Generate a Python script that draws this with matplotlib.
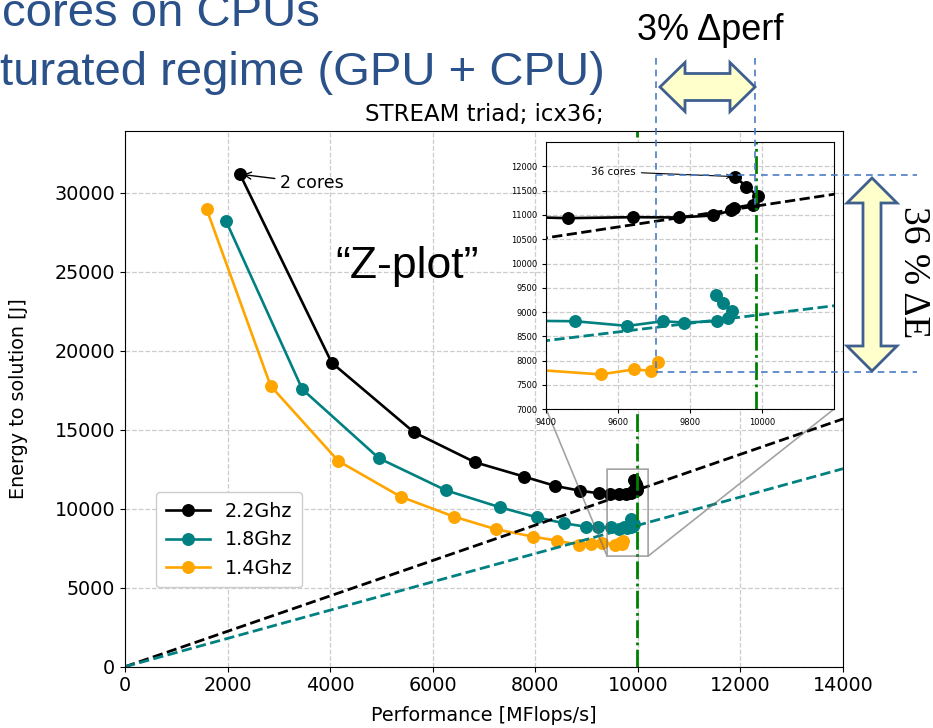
import matplotlib.pyplot as plt
import numpy as np
from matplotlib.lines import Line2D
from matplotlib.patches import Polygon

# data
black_x = [2242, 4030, 5635, 6824, 7785, 8392, 8868, 9234, 9460, 9641, 9768, 9864, 9915, 9922, 9974, 9990, 9957, 9925]
black_y = [31165, 19240, 14835, 12937, 12025, 11437, 11139, 10975, 10933, 10953, 10947, 10988, 11091, 11146, 11213, 11384, 11583, 11788]
teal_x = [1969, 3457, 4952, 6259, 7311, 8026, 8559, 8980, 9230, 9480, 9626, 9724, 9782, 9875, 9907, 9918, 9893, 9872]
teal_y = [28210, 17557, 13190, 11160, 10089, 9456, 9076, 8861, 8830, 8812, 8716, 8812, 8786, 8812, 8880, 9024, 9188, 9360]
orange_x = [1592, 2840, 4159, 5375, 6416, 7233, 7961, 8428, 8857, 9080, 9300, 9551, 9644, 9691, 9710]
orange_y = [28950, 17766, 13019, 10759, 9494, 8696, 8228, 7975, 7703, 7760, 7850, 7718, 7821, 7792, 7965]
labels = ["2.2Ghz", "1.8Ghz", "1.4Ghz"]
colors = ["black", "teal", "orange"]
black_slope = 1.12
teal_slope = 0.895
peak_perf = 9985

W, H = 933, 728
fig = plt.figure(figsize=(W / 100, H / 100), dpi=100)


def px(x, y):
    # pixel position (from top-left) -> figure fraction
    return x / W, 1 - y / H


ax = fig.add_axes([125 / W, 1 - 666.7 / H, 718 / W, 535.7 / H])
series = [(black_x, black_y), (teal_x, teal_y), (orange_x, orange_y)]


def draw_all(a):
    for (xs, ys), c, lab in zip(series, colors, labels):
        a.plot(xs, ys, "-o", color=c, lw=1.9, ms=8.3, label=lab)
    xx = np.array([0, 14000])
    a.plot(xx, xx * black_slope, "--", color="black", lw=2)
    a.plot(xx, xx * teal_slope, "--", color="teal", lw=2)
    a.axvline(peak_perf, color="green", ls="-.", lw=2)
    a.grid(True, ls="--", color="#cccccc", lw=0.9)
    a.set_axisbelow(True)


draw_all(ax)
ax.set_xlim(0, 14000)
ax.set_ylim(0, 33900)
ax.set_xticks(range(0, 14001, 2000))
ax.set_yticks(range(0, 30001, 5000))
ax.tick_params(labelsize=13.8)
ax.set_xlabel("Performance [MFlops/s]", fontsize=13.8)
ax.set_ylabel("Energy to solution [J]", fontsize=13.8)
ax.yaxis.set_label_coords(-0.135, 0.5)
ax.xaxis.set_label_coords(0.5, -0.073)
ax.set_title("STREAM triad; icx36;", fontsize=16.5, pad=7)
ax.legend(loc="lower left", bbox_to_anchor=(0.03, 0.13), fontsize=13.8,
          handlelength=2.3, borderpad=0.5, framealpha=1)
ax.annotate("2 cores", xy=(black_x[0], black_y[0]), xytext=(3030, 30600),
            fontsize=12.5, va="center",
            arrowprops=dict(arrowstyle="->", color="black", lw=1))
ax.text(5500, 25350, "\u201cZ-plot\u201d", fontsize=32, family="Liberation Sans",
        ha="center", va="center")

# inset
ins = fig.add_axes([546.3 / W, 1 - 409.3 / H, 287.4 / W, 267.3 / H])
draw_all(ins)
ins.set_xlim(9400, 10200)
ins.set_ylim(7000, 12500)
ins.set_xticks([9400, 9600, 9800, 10000])
ins.set_yticks(range(7000, 12001, 500))
ins.tick_params(labelsize=6, length=3)
ins.annotate("36 cores", xy=(black_x[-1], black_y[-1]), xytext=(9525, 11890),
             fontsize=7.5, va="center",
             arrowprops=dict(arrowstyle="->", color="black", lw=0.8))
ind = ax.indicate_inset_zoom(ins, edgecolor="0.4", lw=1.2, alpha=0.6)
for i, conn in enumerate(ind.connectors):
    conn.set_visible(i in (0, 2))

# slide overlays
blue = "#2a5189"
fig.text(*px(320, 26), "cores on CPUs", fontsize=34, color=blue,
         family="Liberation Sans", ha="right", va="baseline")
fig.text(*px(605, 85), "turated regime (GPU + CPU)", fontsize=34, color=blue,
         family="Liberation Sans", ha="right", va="baseline")
fig.text(*px(710, 40), "3% \u0394perf", fontsize=26, color="black",
         family="Liberation Sans", ha="center", va="baseline")
fig.text(*px(913, 272), "36 % \u0394E", fontsize=27, color="black",
         family="Liberation Serif", ha="center", va="center", rotation=-90)

guide = dict(color="#4a7cc4", lw=1.2, ls=(0, (4, 3)), transform=fig.transFigure)
for (x0, y0), (x1, y1) in [((656, 58), (656, 372)), ((755, 58), (755, 205)),
                           ((656, 175), (917, 175)), ((656, 372), (917, 372))]:
    a0, b0 = px(x0, y0)
    a1, b1 = px(x1, y1)
    fig.add_artist(Line2D([a0, a1], [b0, b1], **guide))


def block_arrow(x0, x1, c, shaft, head, hl, vertical=False):
    pts = [(x0, c), (x0 + hl, c - head), (x0 + hl, c - shaft), (x1 - hl, c - shaft),
           (x1 - hl, c - head), (x1, c), (x1 - hl, c + head), (x1 - hl, c + shaft),
           (x0 + hl, c + shaft), (x0 + hl, c + head)]
    if vertical:
        pts = [(b, a) for a, b in pts]
    pts = [px(a, b) for a, b in pts]
    fig.add_artist(Polygon(pts, closed=True, facecolor="#ffffcc", edgecolor="#3f5f8f",
                           lw=2, transform=fig.transFigure, zorder=5))


block_arrow(660, 755, 87, 13.5, 24.5, 25)
block_arrow(178, 371, 872, 9, 25, 25, vertical=True)

fig.savefig("out.png", dpi=100)
